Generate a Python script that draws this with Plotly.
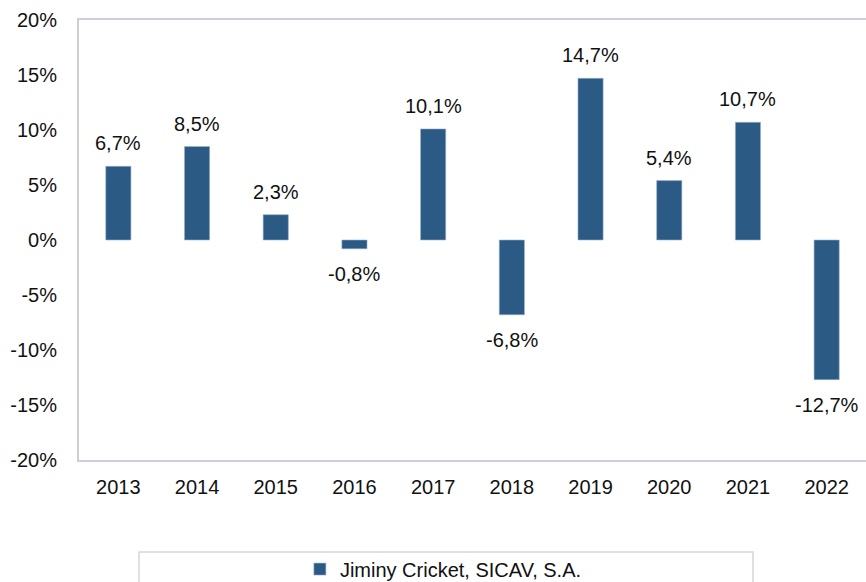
import plotly.graph_objects as go

years = ["2013", "2014", "2015", "2016", "2017", "2018", "2019", "2020", "2021", "2022"]
returns = [6.7, 8.5, 2.3, -0.8, 10.1, -6.8, 14.7, 5.4, 10.7, -12.7]
labels = ["6,7%", "8,5%", "2,3%", "-0,8%", "10,1%", "-6,8%", "14,7%", "5,4%", "10,7%", "-12,7%"]
y_ticks = [-20, -15, -10, -5, 0, 5, 10, 15, 20]
y_tick_text = ["-20%", "-15%", "-10%", "-5%", "0%", "5%", "10%", "15%", "20%"]
series_name = "Jiminy Cricket, SICAV, S.A."

FONT = "Liberation Sans, Arial, Helvetica, sans-serif"
BAR = "#2b5a85"
BORDER = "#cfcfdc"

fig = go.Figure()
fig.add_trace(go.Bar(
    x=years, y=returns, name=series_name,
    marker=dict(color=BAR, line=dict(color="#9fb3c9", width=0.6)),
    width=0.32, showlegend=True,
))

# category index positions on the category axis
for i, (v, t) in enumerate(zip(returns, labels)):
    fig.add_annotation(
        x=i, y=v, text=t, showarrow=False,
        yanchor="bottom" if v >= 0 else "top",
        yshift=10 if v >= 0 else -12,
        font=dict(family=FONT, size=20, color="#111111"),
    )

fig.update_layout(
    width=866, height=582, autosize=False,
    margin=dict(l=79, r=0, t=20, b=122, autoexpand=False),
    paper_bgcolor="white", plot_bgcolor="white",
    font=dict(family=FONT, size=20, color="#111111"),
    legend=dict(
        orientation="h", x=0.463, y=-0.248, xanchor="center", yanchor="middle",
        font=dict(family=FONT, size=20, color="#111111"),
        bgcolor="rgba(0,0,0,0)", itemwidth=30,
    ),
    shapes=[dict(
        type="rect", xref="paper", yref="paper",
        x0=(139 - 79) / 787, x1=(753 - 79) / 787,
        y0=(460 - 600) / 440, y1=(460 - 552) / 440,
        line=dict(color="#d6d6d6", width=1.5), fillcolor="rgba(0,0,0,0)", layer="below",
    )],
)
fig.update_xaxes(
    type="category", categoryorder="array", categoryarray=years,
    range=[-0.5, len(years) - 0.5],
    showgrid=False, showline=True, mirror=True, linecolor=BORDER, linewidth=2,
    ticks="", ticklabelstandoff=8, tickfont=dict(size=20),
)
fig.update_yaxes(
    range=[-20, 20], tickvals=y_ticks, ticktext=y_tick_text,
    showgrid=False, zeroline=False, showline=True, mirror=True,
    linecolor=BORDER, linewidth=2, ticks="", ticklabelstandoff=16,
    tickfont=dict(size=20),
)

fig.write_html(
    "out.html",
    config={"displayModeBar": False},
    post_script="document.body.style.margin='0';document.body.style.overflow='hidden';",
)
